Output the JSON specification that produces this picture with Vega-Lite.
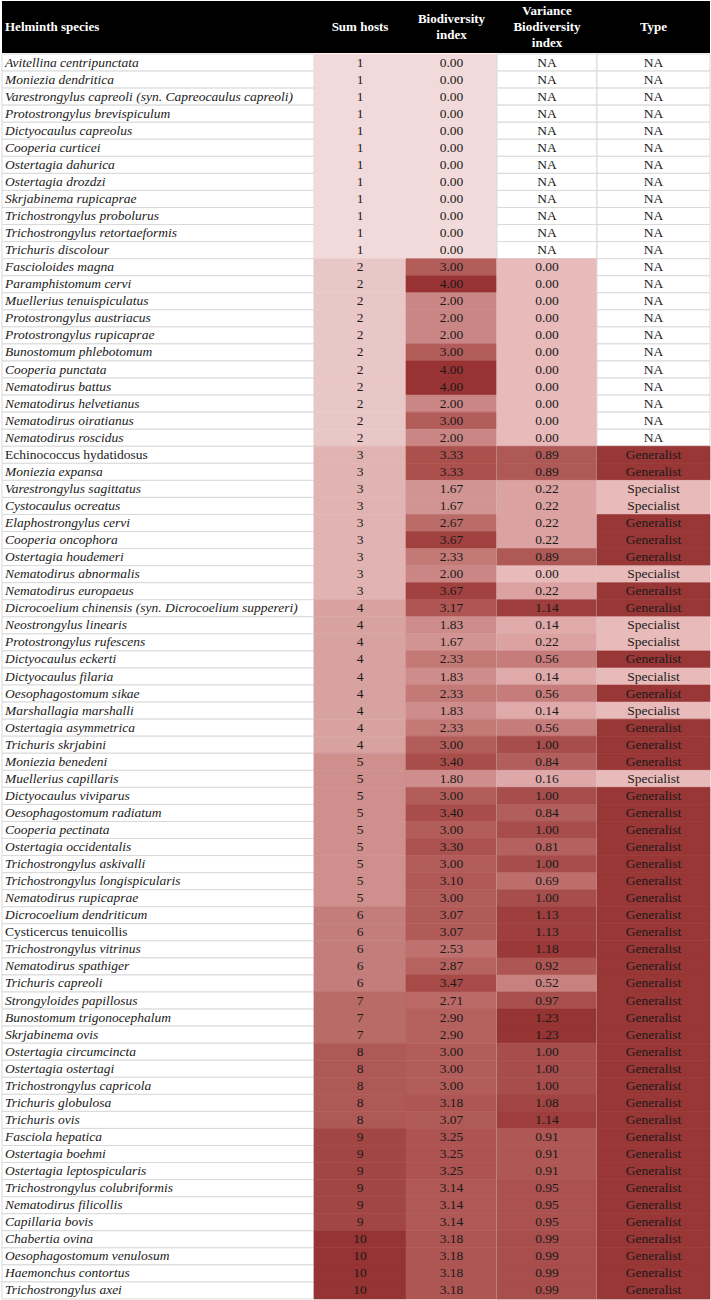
{
  "$schema": "https://vega.github.io/schema/vega-lite/v6.json",
  "padding": {"left": 1, "top": 1, "right": 2, "bottom": 2},
  "background": "white",
  "config": {
    "view": {"stroke": null},
    "text": {"font": "Liberation Serif", "fontSize": 13.5, "color": "#1a1a1a", "baseline": "middle"}
  },
  "datasets": {
    "rows": [
      {"i": 1, "sp": "Avitellina centripunctata", "it": true, "h": 1, "b": 0.00, "v": null, "t": "NA"},
      {"i": 2, "sp": "Moniezia dendritica", "it": true, "h": 1, "b": 0.00, "v": null, "t": "NA"},
      {"i": 3, "sp": "Varestrongylus capreoli (syn. Capreocaulus capreoli)", "it": true, "h": 1, "b": 0.00, "v": null, "t": "NA"},
      {"i": 4, "sp": "Protostrongylus brevispiculum", "it": true, "h": 1, "b": 0.00, "v": null, "t": "NA"},
      {"i": 5, "sp": "Dictyocaulus capreolus", "it": true, "h": 1, "b": 0.00, "v": null, "t": "NA"},
      {"i": 6, "sp": "Cooperia curticei", "it": true, "h": 1, "b": 0.00, "v": null, "t": "NA"},
      {"i": 7, "sp": "Ostertagia dahurica", "it": true, "h": 1, "b": 0.00, "v": null, "t": "NA"},
      {"i": 8, "sp": "Ostertagia drozdzi", "it": true, "h": 1, "b": 0.00, "v": null, "t": "NA"},
      {"i": 9, "sp": "Skrjabinema rupicaprae", "it": true, "h": 1, "b": 0.00, "v": null, "t": "NA"},
      {"i": 10, "sp": "Trichostrongylus probolurus", "it": true, "h": 1, "b": 0.00, "v": null, "t": "NA"},
      {"i": 11, "sp": "Trichostrongylus retortaeformis", "it": true, "h": 1, "b": 0.00, "v": null, "t": "NA"},
      {"i": 12, "sp": "Trichuris discolour", "it": true, "h": 1, "b": 0.00, "v": null, "t": "NA"},
      {"i": 13, "sp": "Fascioloides magna", "it": true, "h": 2, "b": 3.00, "v": 0.00, "t": "NA"},
      {"i": 14, "sp": "Paramphistomum cervi", "it": true, "h": 2, "b": 4.00, "v": 0.00, "t": "NA"},
      {"i": 15, "sp": "Muellerius tenuispiculatus", "it": true, "h": 2, "b": 2.00, "v": 0.00, "t": "NA"},
      {"i": 16, "sp": "Protostrongylus austriacus", "it": true, "h": 2, "b": 2.00, "v": 0.00, "t": "NA"},
      {"i": 17, "sp": "Protostrongylus rupicaprae", "it": true, "h": 2, "b": 2.00, "v": 0.00, "t": "NA"},
      {"i": 18, "sp": "Bunostomum phlebotomum", "it": true, "h": 2, "b": 3.00, "v": 0.00, "t": "NA"},
      {"i": 19, "sp": "Cooperia punctata", "it": true, "h": 2, "b": 4.00, "v": 0.00, "t": "NA"},
      {"i": 20, "sp": "Nematodirus battus", "it": true, "h": 2, "b": 4.00, "v": 0.00, "t": "NA"},
      {"i": 21, "sp": "Nematodirus helvetianus", "it": true, "h": 2, "b": 2.00, "v": 0.00, "t": "NA"},
      {"i": 22, "sp": "Nematodirus oiratianus", "it": true, "h": 2, "b": 3.00, "v": 0.00, "t": "NA"},
      {"i": 23, "sp": "Nematodirus roscidus", "it": true, "h": 2, "b": 2.00, "v": 0.00, "t": "NA"},
      {"i": 24, "sp": "Echinococcus hydatidosus", "it": false, "h": 3, "b": 3.33, "v": 0.89, "t": "Generalist"},
      {"i": 25, "sp": "Moniezia expansa", "it": true, "h": 3, "b": 3.33, "v": 0.89, "t": "Generalist"},
      {"i": 26, "sp": "Varestrongylus sagittatus", "it": true, "h": 3, "b": 1.67, "v": 0.22, "t": "Specialist"},
      {"i": 27, "sp": "Cystocaulus ocreatus", "it": true, "h": 3, "b": 1.67, "v": 0.22, "t": "Specialist"},
      {"i": 28, "sp": "Elaphostrongylus cervi", "it": true, "h": 3, "b": 2.67, "v": 0.22, "t": "Generalist"},
      {"i": 29, "sp": "Cooperia oncophora", "it": true, "h": 3, "b": 3.67, "v": 0.22, "t": "Generalist"},
      {"i": 30, "sp": "Ostertagia houdemeri", "it": true, "h": 3, "b": 2.33, "v": 0.89, "t": "Generalist"},
      {"i": 31, "sp": "Nematodirus abnormalis", "it": true, "h": 3, "b": 2.00, "v": 0.00, "t": "Specialist"},
      {"i": 32, "sp": "Nematodirus europaeus", "it": true, "h": 3, "b": 3.67, "v": 0.22, "t": "Generalist"},
      {"i": 33, "sp": "Dicrocoelium chinensis (syn. Dicrocoelium suppereri)", "it": true, "h": 4, "b": 3.17, "v": 1.14, "t": "Generalist"},
      {"i": 34, "sp": "Neostrongylus linearis", "it": true, "h": 4, "b": 1.83, "v": 0.14, "t": "Specialist"},
      {"i": 35, "sp": "Protostrongylus rufescens", "it": true, "h": 4, "b": 1.67, "v": 0.22, "t": "Specialist"},
      {"i": 36, "sp": "Dictyocaulus eckerti", "it": true, "h": 4, "b": 2.33, "v": 0.56, "t": "Generalist"},
      {"i": 37, "sp": "Dictyocaulus filaria", "it": true, "h": 4, "b": 1.83, "v": 0.14, "t": "Specialist"},
      {"i": 38, "sp": "Oesophagostomum sikae", "it": true, "h": 4, "b": 2.33, "v": 0.56, "t": "Generalist"},
      {"i": 39, "sp": "Marshallagia marshalli", "it": true, "h": 4, "b": 1.83, "v": 0.14, "t": "Specialist"},
      {"i": 40, "sp": "Ostertagia asymmetrica", "it": true, "h": 4, "b": 2.33, "v": 0.56, "t": "Generalist"},
      {"i": 41, "sp": "Trichuris skrjabini", "it": true, "h": 4, "b": 3.00, "v": 1.00, "t": "Generalist"},
      {"i": 42, "sp": "Moniezia benedeni", "it": true, "h": 5, "b": 3.40, "v": 0.84, "t": "Generalist"},
      {"i": 43, "sp": "Muellerius capillaris", "it": true, "h": 5, "b": 1.80, "v": 0.16, "t": "Specialist"},
      {"i": 44, "sp": "Dictyocaulus viviparus", "it": true, "h": 5, "b": 3.00, "v": 1.00, "t": "Generalist"},
      {"i": 45, "sp": "Oesophagostomum radiatum", "it": true, "h": 5, "b": 3.40, "v": 0.84, "t": "Generalist"},
      {"i": 46, "sp": "Cooperia pectinata", "it": true, "h": 5, "b": 3.00, "v": 1.00, "t": "Generalist"},
      {"i": 47, "sp": "Ostertagia occidentalis", "it": true, "h": 5, "b": 3.30, "v": 0.81, "t": "Generalist"},
      {"i": 48, "sp": "Trichostrongylus askivalli", "it": true, "h": 5, "b": 3.00, "v": 1.00, "t": "Generalist"},
      {"i": 49, "sp": "Trichostrongylus longispicularis", "it": true, "h": 5, "b": 3.10, "v": 0.69, "t": "Generalist"},
      {"i": 50, "sp": "Nematodirus rupicaprae", "it": true, "h": 5, "b": 3.00, "v": 1.00, "t": "Generalist"},
      {"i": 51, "sp": "Dicrocoelium dendriticum", "it": true, "h": 6, "b": 3.07, "v": 1.13, "t": "Generalist"},
      {"i": 52, "sp": "Cysticercus tenuicollis", "it": false, "h": 6, "b": 3.07, "v": 1.13, "t": "Generalist"},
      {"i": 53, "sp": "Trichostrongylus vitrinus", "it": true, "h": 6, "b": 2.53, "v": 1.18, "t": "Generalist"},
      {"i": 54, "sp": "Nematodirus spathiger", "it": true, "h": 6, "b": 2.87, "v": 0.92, "t": "Generalist"},
      {"i": 55, "sp": "Trichuris capreoli", "it": true, "h": 6, "b": 3.47, "v": 0.52, "t": "Generalist"},
      {"i": 56, "sp": "Strongyloides papillosus", "it": true, "h": 7, "b": 2.71, "v": 0.97, "t": "Generalist"},
      {"i": 57, "sp": "Bunostomum trigonocephalum", "it": true, "h": 7, "b": 2.90, "v": 1.23, "t": "Generalist"},
      {"i": 58, "sp": "Skrjabinema ovis", "it": true, "h": 7, "b": 2.90, "v": 1.23, "t": "Generalist"},
      {"i": 59, "sp": "Ostertagia circumcincta", "it": true, "h": 8, "b": 3.00, "v": 1.00, "t": "Generalist"},
      {"i": 60, "sp": "Ostertagia ostertagi", "it": true, "h": 8, "b": 3.00, "v": 1.00, "t": "Generalist"},
      {"i": 61, "sp": "Trichostrongylus capricola", "it": true, "h": 8, "b": 3.00, "v": 1.00, "t": "Generalist"},
      {"i": 62, "sp": "Trichuris globulosa", "it": true, "h": 8, "b": 3.18, "v": 1.08, "t": "Generalist"},
      {"i": 63, "sp": "Trichuris ovis", "it": true, "h": 8, "b": 3.07, "v": 1.14, "t": "Generalist"},
      {"i": 64, "sp": "Fasciola hepatica", "it": true, "h": 9, "b": 3.25, "v": 0.91, "t": "Generalist"},
      {"i": 65, "sp": "Ostertagia boehmi", "it": true, "h": 9, "b": 3.25, "v": 0.91, "t": "Generalist"},
      {"i": 66, "sp": "Ostertagia leptospicularis", "it": true, "h": 9, "b": 3.25, "v": 0.91, "t": "Generalist"},
      {"i": 67, "sp": "Trichostrongylus colubriformis", "it": true, "h": 9, "b": 3.14, "v": 0.95, "t": "Generalist"},
      {"i": 68, "sp": "Nematodirus filicollis", "it": true, "h": 9, "b": 3.14, "v": 0.95, "t": "Generalist"},
      {"i": 69, "sp": "Capillaria bovis", "it": true, "h": 9, "b": 3.14, "v": 0.95, "t": "Generalist"},
      {"i": 70, "sp": "Chabertia ovina", "it": true, "h": 10, "b": 3.18, "v": 0.99, "t": "Generalist"},
      {"i": 71, "sp": "Oesophagostomum venulosum", "it": true, "h": 10, "b": 3.18, "v": 0.99, "t": "Generalist"},
      {"i": 72, "sp": "Haemonchus contortus", "it": true, "h": 10, "b": 3.18, "v": 0.99, "t": "Generalist"},
      {"i": 73, "sp": "Trichostrongylus axei", "it": true, "h": 10, "b": 3.18, "v": 0.99, "t": "Generalist"}
    ]
  },
  "spacing": 0,
  "vconcat": [
    {
      "spacing": 0,
      "bounds": "flush",
      "hconcat": [
        {
          "width": 312, "height": 52,
          "view": {"fill": "black", "stroke": null},
          "data": {"values": [{"t": "Helminth species"}]},
          "mark": {"type": "text", "align": "left", "dx": 3, "color": "white", "fontWeight": "bold", "fontSize": 13},
          "encoding": {
            "x": {"field": "t", "type": "nominal", "bandPosition": 0, "axis": null, "scale": {"type": "band", "paddingInner": 0, "paddingOuter": 0}},
            "text": {"field": "t"}
          }
        },
        {
          "width": 92, "height": 52,
          "view": {"fill": "black", "stroke": null},
          "data": {"values": [{"t": "Sum hosts"}]},
          "mark": {"type": "text", "color": "white", "fontWeight": "bold", "fontSize": 13},
          "encoding": {"text": {"field": "t"}}
        },
        {
          "width": 91, "height": 52,
          "view": {"fill": "black", "stroke": null},
          "data": {"values": [{"t": "Biodiversity\nindex"}]},
          "mark": {"type": "text", "color": "white", "fontWeight": "bold", "fontSize": 13, "lineBreak": "\n", "lineHeight": 16, "dy": -8},
          "encoding": {"text": {"field": "t"}}
        },
        {
          "width": 100, "height": 52,
          "view": {"fill": "black", "stroke": null},
          "data": {"values": [{"t": "Variance\nBiodiversity\nindex"}]},
          "mark": {"type": "text", "color": "white", "fontWeight": "bold", "fontSize": 13, "lineBreak": "\n", "lineHeight": 16, "dy": -16},
          "encoding": {"text": {"field": "t"}}
        },
        {
          "width": 113, "height": 52,
          "view": {"fill": "black", "stroke": null},
          "data": {"values": [{"t": "Type"}]},
          "mark": {"type": "text", "color": "white", "fontWeight": "bold", "fontSize": 13},
          "encoding": {"text": {"field": "t"}}
        }
      ]
    },
    {
      "spacing": 0,
      "bounds": "flush",
      "hconcat": [
        {
          "width": 312, "height": 1245,
          "data": {"name": "rows"},
          "encoding": {"y": {"field": "i", "type": "ordinal", "axis": null, "scale": {"type": "band", "paddingInner": 0, "paddingOuter": 0}}},
          "layer": [
            {"mark": {"type": "rect", "fill": "white", "stroke": "#d9d9d9", "strokeWidth": 1}},
            {
              "transform": [{"filter": "datum.it"}],
              "mark": {"type": "text", "align": "left", "dx": 3, "fontStyle": "italic"},
              "encoding": {
                "x": {"datum": "c", "type": "nominal", "bandPosition": 0, "axis": null, "scale": {"type": "band", "paddingInner": 0, "paddingOuter": 0}},
                "text": {"field": "sp"}
              }
            },
            {
              "transform": [{"filter": "!datum.it"}],
              "mark": {"type": "text", "align": "left", "dx": 3},
              "encoding": {
                "x": {"datum": "c", "type": "nominal", "bandPosition": 0, "axis": null, "scale": {"type": "band", "paddingInner": 0, "paddingOuter": 0}},
                "text": {"field": "sp"}
              }
            }
          ]
        },
        {
          "width": 92, "height": 1245,
          "data": {"name": "rows"},
          "encoding": {"y": {"field": "i", "type": "ordinal", "axis": null, "scale": {"type": "band", "paddingInner": 0, "paddingOuter": 0}}},
          "layer": [
            {
              "mark": {"type": "rect", "strokeWidth": 0.6},
              "encoding": {
                "fill": {"field": "h", "type": "quantitative", "scale": {"domain": [1, 10], "range": ["#f2dada", "#963333"]}, "legend": null},
                "stroke": {"field": "h", "type": "quantitative", "scale": {"domain": [1, 10], "range": ["#f2dada", "#963333"]}, "legend": null}
              }
            },
            {"mark": {"type": "text"}, "encoding": {"text": {"field": "h", "type": "quantitative"}}}
          ]
        },
        {
          "width": 91, "height": 1245,
          "data": {"name": "rows"},
          "encoding": {"y": {"field": "i", "type": "ordinal", "axis": null, "scale": {"type": "band", "paddingInner": 0, "paddingOuter": 0}}},
          "layer": [
            {
              "mark": {"type": "rect", "strokeWidth": 0.6},
              "encoding": {
                "fill": {"field": "b", "type": "quantitative", "scale": {"domain": [0, 4], "range": ["#f2dada", "#993333"]}, "legend": null},
                "stroke": {"field": "b", "type": "quantitative", "scale": {"domain": [0, 4], "range": ["#f2dada", "#993333"]}, "legend": null}
              }
            },
            {"mark": {"type": "text"}, "encoding": {"text": {"field": "b", "type": "quantitative", "format": ".2f"}}}
          ]
        },
        {
          "width": 100, "height": 1245,
          "data": {"name": "rows"},
          "encoding": {"y": {"field": "i", "type": "ordinal", "axis": null, "scale": {"type": "band", "paddingInner": 0, "paddingOuter": 0}}},
          "layer": [
            {"mark": {"type": "rect", "fill": "white", "stroke": "#d9d9d9", "strokeWidth": 1}},
            {
              "transform": [{"filter": "isValid(datum.v)"}],
              "mark": {"type": "rect", "strokeWidth": 0.6},
              "encoding": {
                "fill": {"field": "v", "type": "quantitative", "scale": {"domain": [0, 1.23], "range": ["#e8baba", "#963333"]}, "legend": null},
                "stroke": {"field": "v", "type": "quantitative", "scale": {"domain": [0, 1.23], "range": ["#e8baba", "#963333"]}, "legend": null}
              }
            },
            {
              "transform": [{"filter": "isValid(datum.v)"}],
              "mark": {"type": "text"},
              "encoding": {"text": {"field": "v", "type": "quantitative", "format": ".2f"}}
            },
            {
              "transform": [{"filter": "!isValid(datum.v)"}],
              "mark": {"type": "text", "text": "NA"},
              "encoding": {}
            }
          ]
        },
        {
          "width": 113, "height": 1245,
          "data": {"name": "rows"},
          "encoding": {"y": {"field": "i", "type": "ordinal", "axis": null, "scale": {"type": "band", "paddingInner": 0, "paddingOuter": 0}}},
          "layer": [
            {"mark": {"type": "rect", "fill": "white", "stroke": "#d9d9d9", "strokeWidth": 1}},
            {
              "transform": [{"filter": "datum.t !== 'NA'"}],
              "mark": {"type": "rect", "strokeWidth": 0.6},
              "encoding": {
                "fill": {"field": "t", "type": "nominal", "scale": {"domain": ["Generalist", "Specialist"], "range": ["#993636", "#e8baba"]}, "legend": null},
                "stroke": {"field": "t", "type": "nominal", "scale": {"domain": ["Generalist", "Specialist"], "range": ["#993636", "#e8baba"]}, "legend": null}
              }
            },
            {"mark": {"type": "text"}, "encoding": {"text": {"field": "t"}}}
          ]
        }
      ]
    }
  ]
}
